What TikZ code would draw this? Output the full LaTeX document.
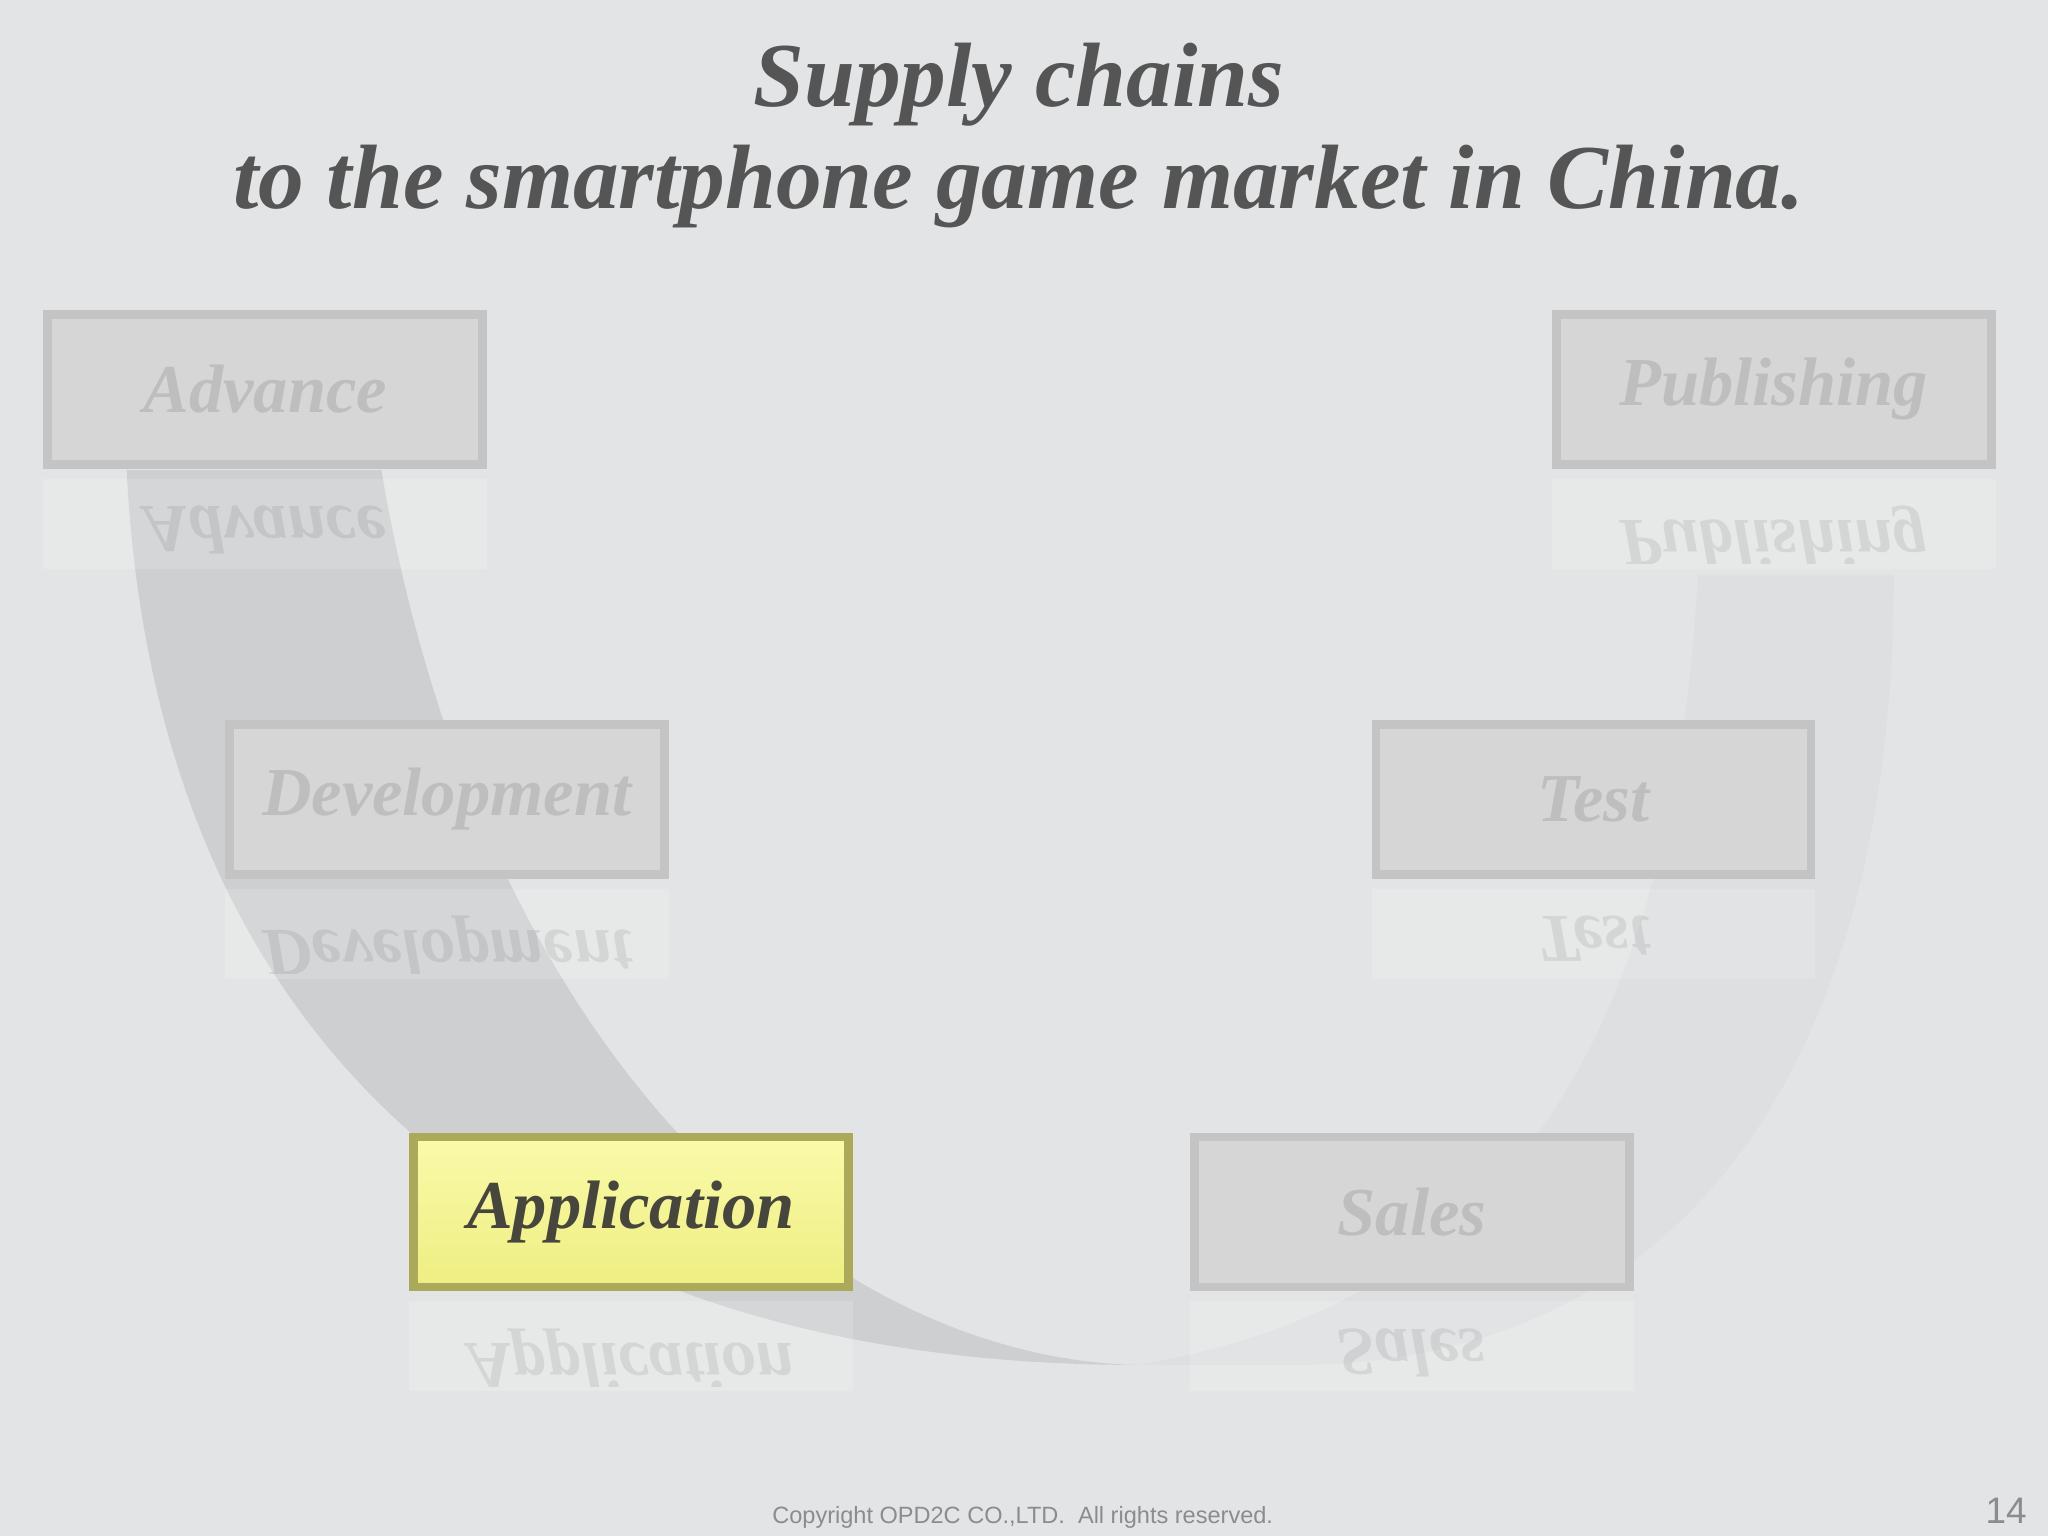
\documentclass[tikz,border=0pt]{standalone}
\usepackage{fontspec}
\setmainfont{Liberation Serif}
\newfontfamily\sansf{Liberation Sans}
\definecolor{bg}{RGB}{227,228,229}
\definecolor{bandL}{RGB}{200,202,204}
\definecolor{bandR}{RGB}{218,220,222}
\definecolor{boxdraw}{RGB}{196,196,196}
\definecolor{boxfill}{RGB}{214,214,215}
\definecolor{boxtext}{RGB}{190,190,191}
\definecolor{appdraw}{RGB}{170,170,90}
\definecolor{apptop}{RGB}{250,250,170}
\definecolor{appbot}{RGB}{238,238,130}
\definecolor{apptext}{RGB}{70,70,60}
\definecolor{titlec}{RGB}{85,85,85}
\definecolor{footc}{RGB}{140,140,140}
\begin{document}
\begin{tikzpicture}[x=0.013061cm,y=-0.013061cm,
  boxs/.style={draw=boxdraw,line width=2.5pt,fill=boxfill,minimum width=4.35cm,minimum height=1.5cm,inner sep=0pt,font=\fontsize{19.5}{24}\selectfont\bfseries\itshape,text=boxtext},
  appbox/.style={boxs,draw=appdraw,top color=apptop,bottom color=appbot,text=apptext},
  refl/.style={yscale=-1,opacity=0.08,font=\fontsize{19.5}{24}\selectfont\bfseries\itshape,text=black}]
\fill[bg] (0,0) rectangle (1568,1176);
\useasboundingbox (0,0) rectangle (1568,1176);
% bands
\fill[bandL,opacity=0.8] (97,360) .. controls (120,820) and (420,1045) .. (870,1045)
  .. controls (640,1040) and (370,820) .. (292,360) -- cycle;
\fill[bandR,opacity=0.5] (1000,1045) .. controls (1300,1040) and (1450,800) .. (1450,440)
  -- (1300,440) .. controls (1280,800) and (1150,1000) .. (870,1045) -- cycle;
% boxes
\node[boxs] (adv) at (203,298) {Advance};
\node[boxs] (pub) at (1358,298) {Publishing};
\node[boxs] (dev) at (342,612) {Development};
\node[boxs] (tst) at (1220,612) {Test};
\node[appbox] (app) at (483,928) {Application};
\node[boxs] (sal) at (1081,928) {Sales};
% reflections
\foreach \n/\t in {adv/Advance,pub/Publishing,dev/Development,tst/Test,app/Application,sal/Sales}{
  \fill[white,opacity=0.15] ([yshift=-0.1cm]\n.south west) rectangle ([yshift=-1cm]\n.south east);
  \begin{scope}
  \clip ([yshift=-0.1cm]\n.south west) rectangle ([yshift=-0.95cm]\n.south east);
  \node[refl,anchor=south] at ([yshift=-0.25cm]\n.south) {\t};
  \end{scope}
}
% title
\node[text=titlec,font=\fontsize{26}{29}\selectfont\bfseries\itshape,align=center] (title) at (780,104)
 {Supply chains\\to the smartphone game market in China.};
\node[font=\sansf\fontsize{6.7}{8}\selectfont,text=footc] (copy) at (783,1162) {Copyright OPD2C CO.,LTD.\ \ All rights reserved.};
\node[font=\sansf\fontsize{10.5}{12}\selectfont,text=footc] (pg) at (1536,1157) {14};
\end{tikzpicture}
\end{document}
